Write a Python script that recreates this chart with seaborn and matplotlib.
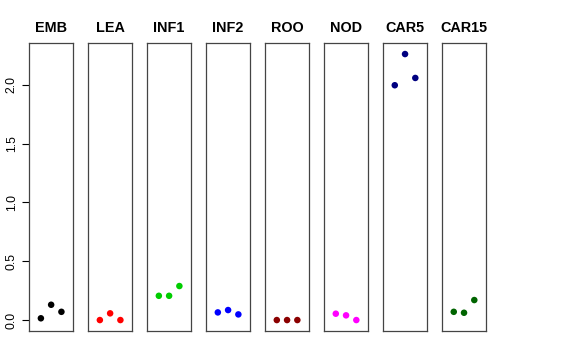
import pandas as pd
import matplotlib
matplotlib.use("Agg")
import matplotlib.pyplot as plt
import seaborn as sns

# values, three replicates per tissue
tissues = ["EMB", "LEA", "INF1", "INF2", "ROO", "NOD", "CAR5", "CAR15"]
rep = [1, 2, 3]
emb = [0.015, 0.13, 0.07]
lea = [0.0, 0.057, 0.0]
inf1 = [0.206, 0.206, 0.289]
inf2 = [0.065, 0.085, 0.048]
roo = [0.0, 0.0, 0.0]
nod = [0.054, 0.04, 0.0]
car5 = [1.995, 2.26, 2.057]
car15 = [0.07, 0.062, 0.17]
colors = ["black", "red", "#00CD00", "blue", "#8B0000", "magenta", "#000080", "#006400"]

values = [emb, lea, inf1, inf2, roo, nod, car5, car15]
df = pd.DataFrame({
    "tissue": [t for t in tissues for _ in rep],
    "rep": rep * len(tissues),
    "expr": [v for vals in values for v in vals],
})

sns.set_style("white")
plt.rcParams["font.family"] = ["Liberation Sans", "DejaVu Sans"]

fig = plt.figure(figsize=(5.76, 3.6), dpi=100)
ymax = df["expr"].max()
ypad = 0.04 * ymax

left, width, step = 0.0503, 0.077, 0.1024
bottom, height = 0.0814, 0.798

for i, (tissue, col) in enumerate(zip(tissues, colors)):
    ax = fig.add_axes([left + i * step, bottom, width, height])
    sub = df[df["tissue"] == tissue]
    sns.scatterplot(data=sub, x="rep", y="expr", color=col, s=22,
                    edgecolor="none", ax=ax, legend=False)
    ax.set_xlim(-0.16, 4.16)
    ax.set_ylim(-ypad, ymax + ypad)
    ax.set_xticks([])
    ax.set_xlabel("")
    ax.set_ylabel("")
    ax.set_title(tissue, fontsize=10.4, fontweight="bold", color="black", pad=8)
    for sp in ax.spines.values():
        sp.set_visible(True)
        sp.set_color("#444444")
        sp.set_linewidth(0.9)
    if i == 0:
        ax.set_yticks([0.0, 0.5, 1.0, 1.5, 2.0])
        ax.set_yticklabels(["0.0", "0.5", "1.0", "1.5", "2.0"],
                           rotation=90, va="center", fontsize=8.8, color="black")
        ax.tick_params(axis="y", left=True, length=5, width=0.8, pad=3, color="black")
    else:
        ax.set_yticks([])

fig.savefig("out.png", dpi=100)
